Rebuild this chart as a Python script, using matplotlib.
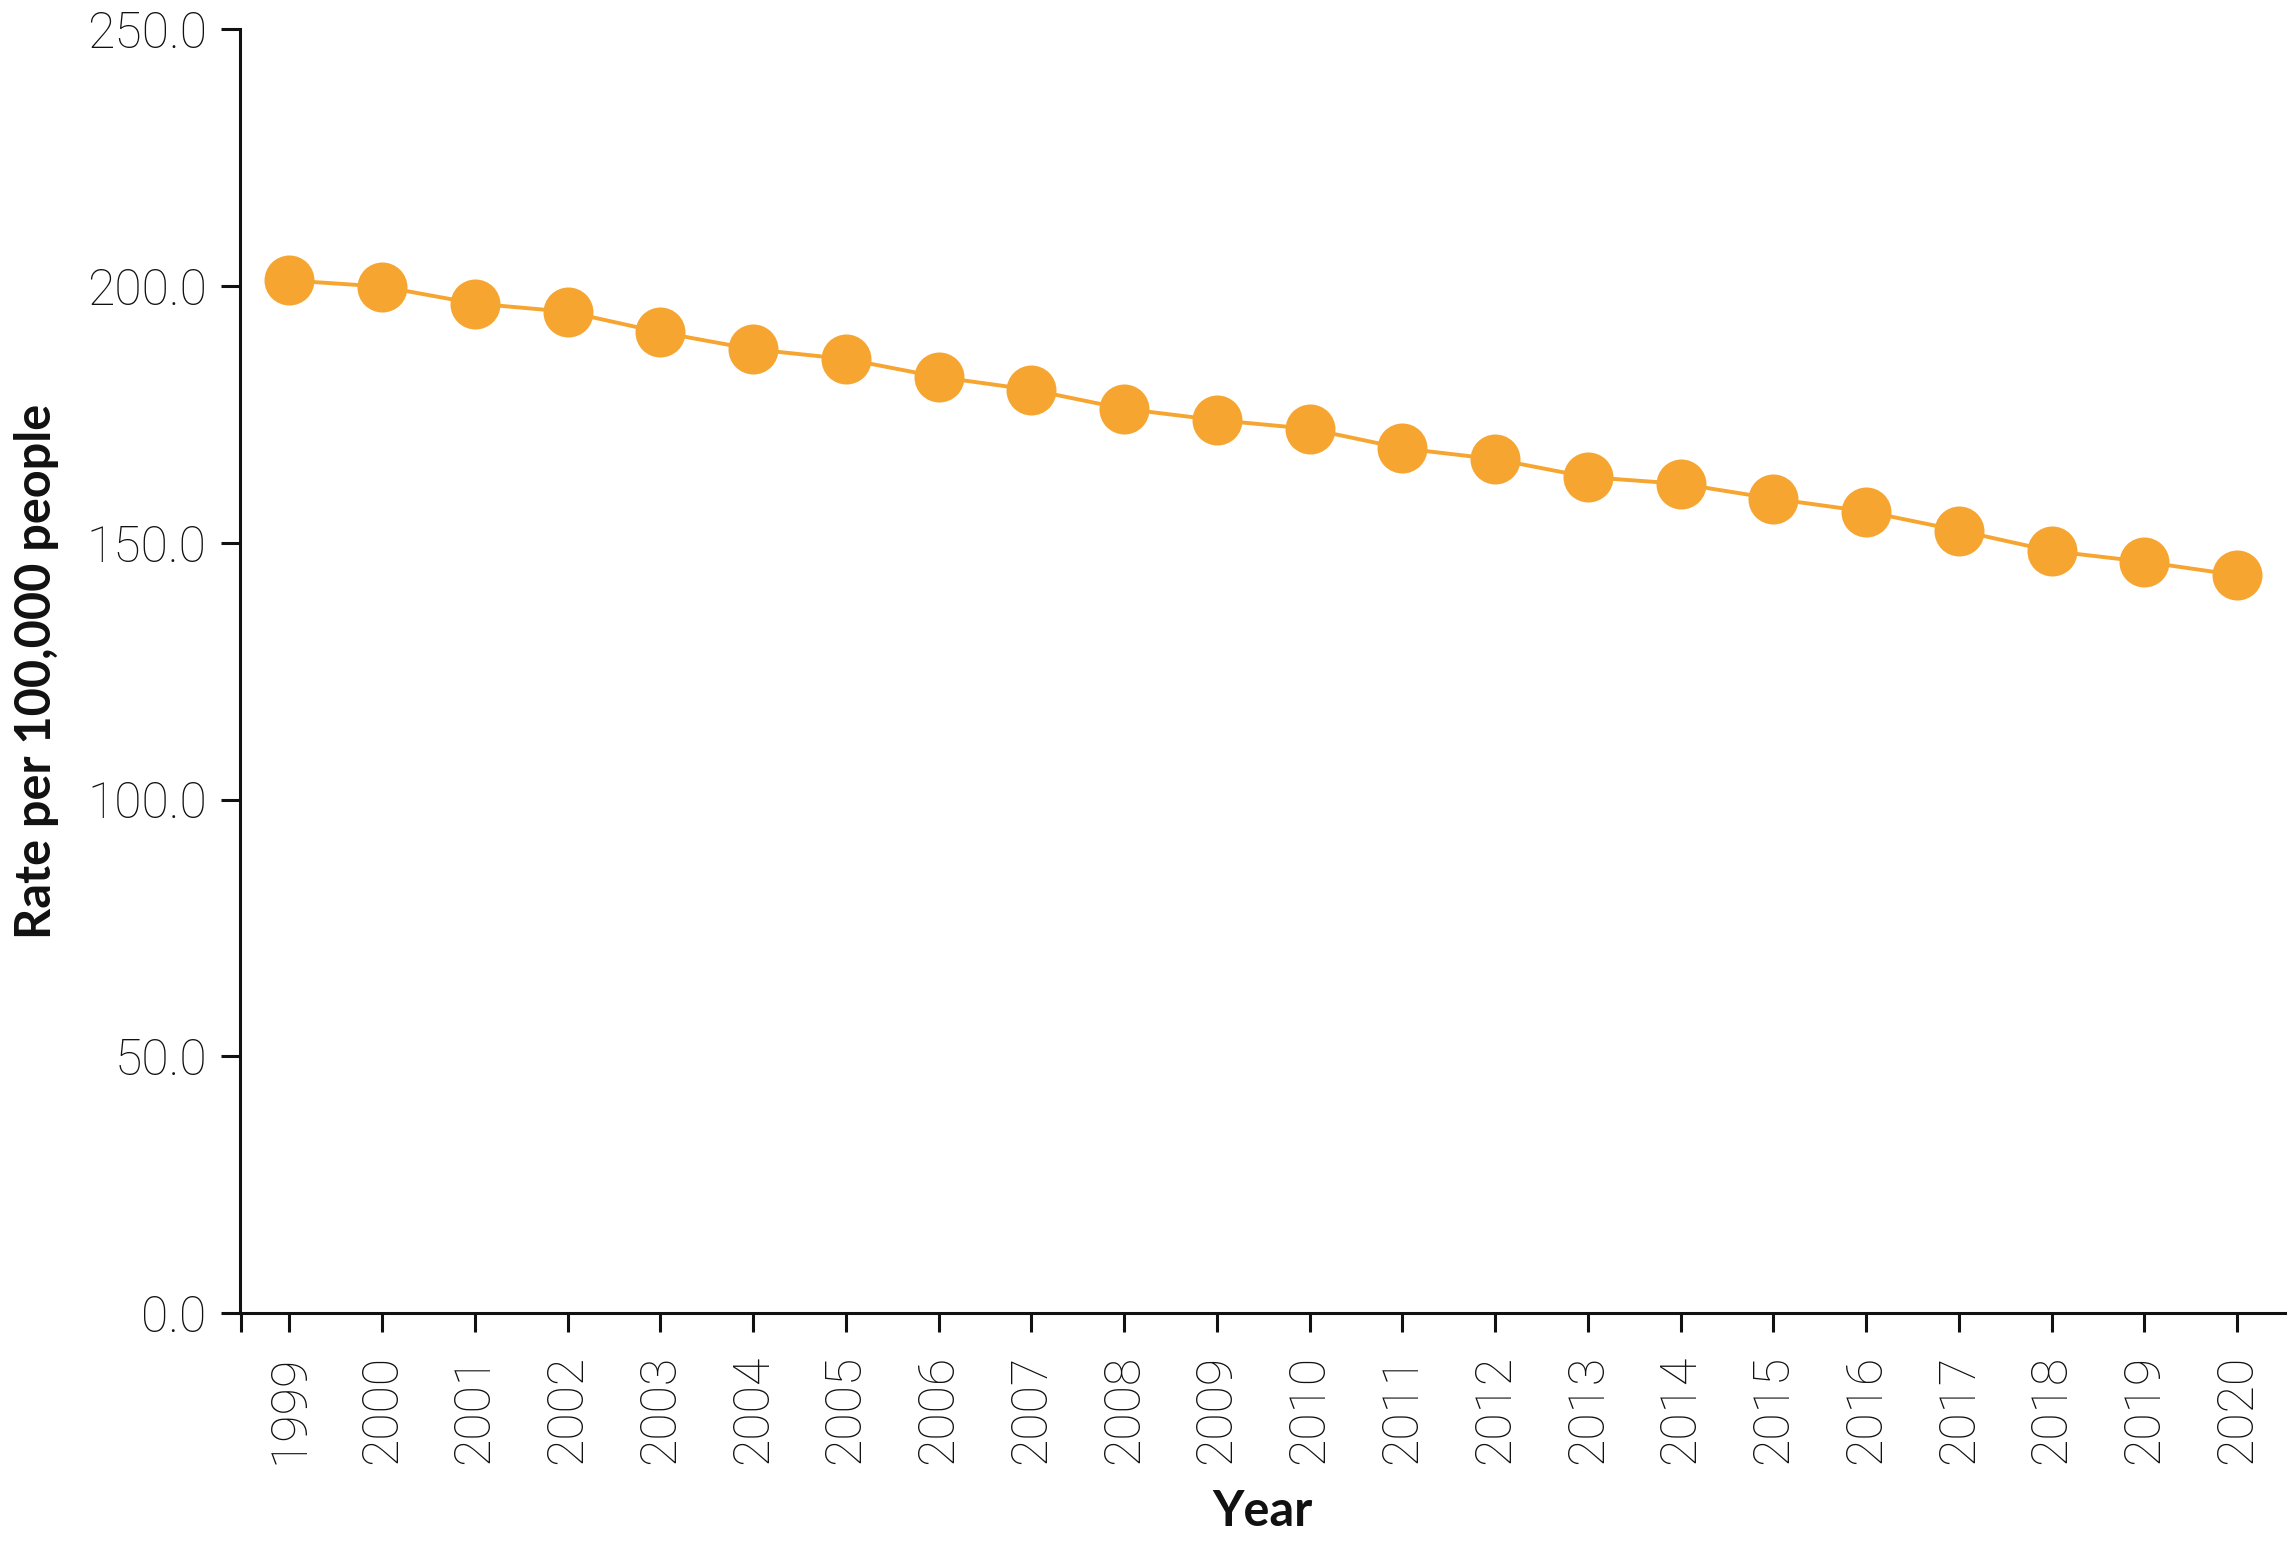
import numpy as np
import matplotlib
matplotlib.use('Agg')
import matplotlib.pyplot as plt

years = list(range(1999, 2021))
rates = [201.1, 199.9, 196.6, 195.0, 191.0, 187.7, 185.8, 182.3, 179.8, 176.1, 173.9,
         172.2, 168.4, 166.3, 162.8, 161.5, 158.6, 156.1, 152.4, 148.4, 146.3, 143.7]
y_ticks = [0, 50, 100, 150, 200, 250]

orange = '#F6A530'
ink = '#111111'


def main():
    fig = plt.figure(figsize=(22.93, 15.43), dpi=100)
    ax = fig.add_axes([0.1047, 0.149, 0.892, 0.832])

    ax.plot(years, rates, color=orange, linewidth=2.8, marker='o',
            markersize=36, markerfacecolor=orange, markeredgewidth=0)

    x_lo, x_hi = 1998.47, 2020.52
    ax.set_xlim(x_lo, x_hi)
    ax.set_ylim(0, 250)

    ax.set_yticks(y_ticks)
    ax.set_yticklabels(['%.1f' % v for v in y_ticks])
    ax.set_xticks(years)
    ax.set_xticklabels([str(y) for y in years], rotation=90)
    # extra tick where the x axis meets the y axis
    ax.set_xticks([x_lo + 0.005], minor=True)

    for side in ['top', 'right']:
        ax.spines[side].set_visible(False)
    for side in ['left', 'bottom']:
        ax.spines[side].set_linewidth(2.2)
        ax.spines[side].set_color(ink)

    ax.tick_params(axis='both', which='both', direction='out', length=14, width=2.2,
                   color=ink, labelcolor=ink)
    ax.tick_params(axis='x', pad=16)
    ax.tick_params(axis='y', pad=10)
    for lab in ax.get_xticklabels() + ax.get_yticklabels():
        lab.set_fontfamily(['Roboto', 'DejaVu Sans'])
        lab.set_fontweight('light')
        lab.set_fontsize(36)
        lab.set_color(ink)

    ax.set_xlabel('Year', fontsize=35, fontweight='bold', color=ink,
                  fontfamily=['Lato', 'DejaVu Sans'], labelpad=18)
    ax.set_ylabel('Rate per 100,000 people', fontsize=35, fontweight='bold', color=ink,
                  fontfamily=['Lato', 'DejaVu Sans'], labelpad=20)

    fig.savefig('out.png', dpi=100, facecolor='white')


main()
